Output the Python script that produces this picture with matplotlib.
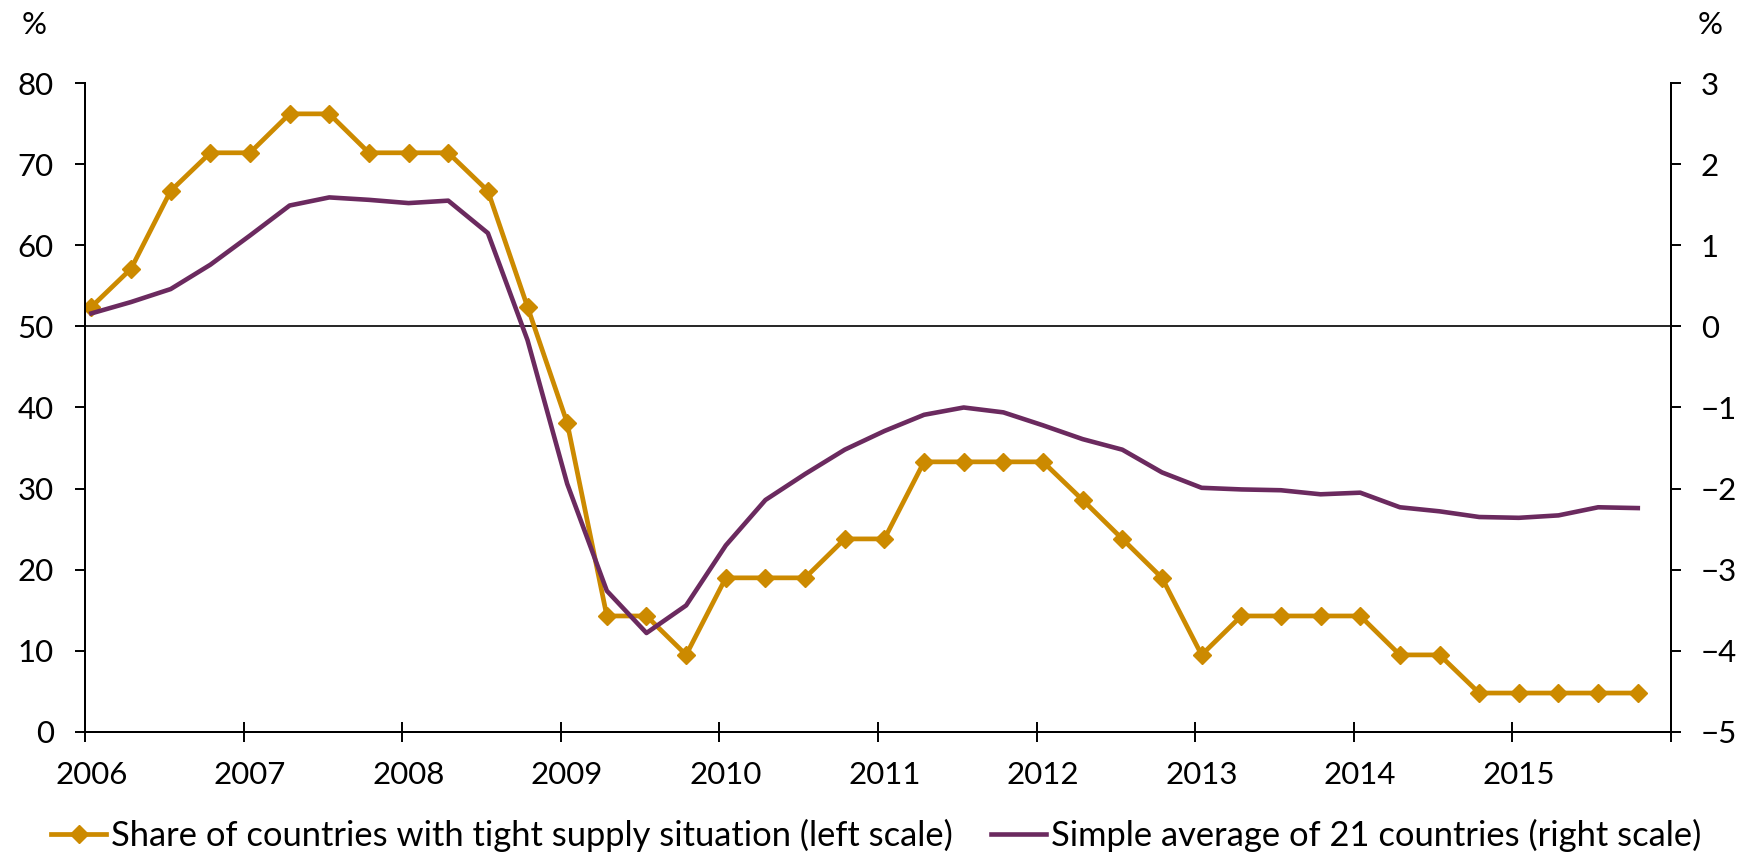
import numpy as np
import matplotlib.pyplot as plt

# quarterly data 2006Q1 - 2015Q4
years = list(range(2006, 2016))
quarters = [y + q / 4 for y in years for q in range(4)]

share_tight = [52.4, 57.1, 66.7, 71.4,
               71.4, 76.2, 76.2, 71.4,
               71.4, 71.4, 66.7, 52.4,
               38.1, 14.3, 14.3, 9.5,
               19.0, 19.0, 19.0, 23.8,
               23.8, 33.3, 33.3, 33.3,
               33.3, 28.6, 23.8, 19.0,
               9.5, 14.3, 14.3, 14.3,
               14.3, 9.5, 9.5, 4.8,
               4.8, 4.8, 4.8, 4.8]

avg_21 = [0.16, 0.30, 0.46, 0.76,
          1.12, 1.49, 1.59, 1.56,
          1.52, 1.55, 1.15, -0.17,
          -1.94, -3.26, -3.78, -3.44,
          -2.70, -2.14, -1.82, -1.52,
          -1.29, -1.09, -1.00, -1.06,
          -1.22, -1.39, -1.52, -1.80,
          -1.99, -2.01, -2.02, -2.07,
          -2.05, -2.23, -2.28, -2.35,
          -2.36, -2.33, -2.23, -2.24]

left_ticks = [0, 10, 20, 30, 40, 50, 60, 70, 80]
right_ticks = [-5, -4, -3, -2, -1, 0, 1, 2, 3]

label_left = 'Share of countries with tight supply situation (left scale)'
label_right = 'Simple average of 21 countries (right scale)'

orange = '#CC8A00'
purple = '#6B2A5F'
fs = 22.5

plt.rcParams['font.family'] = ['Lato', 'DejaVu Sans']

fig = plt.figure(figsize=(17.42, 8.56), dpi=100)
ax = fig.add_axes([0.0488, 0.1449, 0.9105, 0.7581])
ax2 = ax.twinx()

shift = 0.04  # points sit just right of the year ticks
x = np.array(quarters) + shift

ax.axhline(50, color='black', lw=1.2, zorder=1)
l1, = ax.plot(x, share_tight, color=orange, lw=3.4, marker='D', ms=9.5,
              mec=orange, zorder=3, label=label_left)
l2, = ax2.plot(x, avg_21, color=purple, lw=3.3, zorder=3, label=label_right)

ax.set_xlim(2006, 2016)
ax.set_ylim(0, 80)
ax2.set_ylim(-5, 3)

ax.set_yticks(left_ticks)
ax2.set_yticks(right_ticks)
ax.set_xticks(range(2006, 2017))
ax.set_xticklabels([])
ax.set_xticks(np.array(years) + shift, [str(y) for y in years], minor=True)

ax.tick_params(axis='y', direction='out', length=7.5, width=1.4, pad=15, labelsize=fs)
ax2.tick_params(axis='y', direction='out', length=7.5, width=1.4, pad=14, labelsize=fs)
ax.tick_params(axis='x', which='major', direction='inout', length=14, width=1.4)
ax.tick_params(axis='x', which='minor', length=0, pad=21, labelsize=fs)

for a in (ax, ax2):
    a.spines['top'].set_visible(False)
    for s in ('left', 'right', 'bottom'):
        a.spines[s].set_linewidth(1.4)

fig.text(34 / 1742, 1 - 25 / 856, '%', ha='center', va='center', fontsize=fs)
fig.text(1710 / 1742, 1 - 25 / 856, '%', ha='center', va='center', fontsize=fs)

fig.legend(handles=[l1, l2], loc='center', bbox_to_anchor=(0.503, 0.024),
           ncol=2, frameon=False, fontsize=24.8, handlelength=1.6,
           handletextpad=0.15, columnspacing=1.1, borderpad=0, borderaxespad=0)

fig.savefig('out.png', dpi=100)
